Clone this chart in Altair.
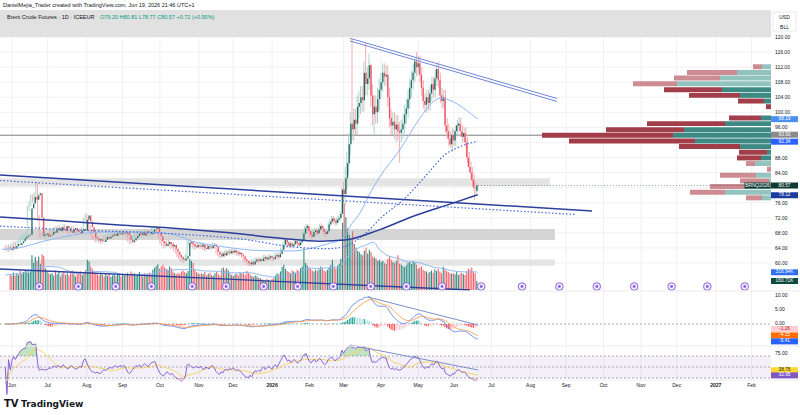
import altair as alt
import numpy as np
import pandas as pd

FONT = "Liberation Sans"
INK = "#131722"

# ---------------- data ----------------
BASE_DAY = "2025-05-26"          # bar number 0 of the trading-day x scale
FIRST_DAY = "2025-05-27"

close_2025_05 = [64.0, 63.5, 64.3, 63.8]
close_2025_06 = [64.5, 65.0, 64.8, 65.3, 65.8, 66.5, 67.0, 67.3, 67.5, 74.5, 75.8, 77.5, 76.8, 78.0, 78.5,
                 72.0, 67.2, 67.5, 67.8, 67.0, 67.3]
close_2025_07 = [67.5, 68.3, 68.0, 68.8, 69.2, 68.5, 69.5, 69.0, 68.6, 69.8, 69.2, 68.4, 68.0, 68.9, 69.3,
                 68.7, 68.2, 67.9, 68.5, 69.0, 68.6, 71.5, 72.6]
close_2025_08 = [71.0, 69.5, 68.0, 66.8, 66.5, 66.0, 66.3, 65.8, 65.6, 66.2, 66.9, 66.5, 67.0, 67.3, 67.6,
                 67.2, 67.9, 68.1, 67.6, 67.9, 68.2]
close_2025_09 = [67.8, 68.2, 67.4, 66.2, 65.5, 66.0, 66.6, 67.2, 67.8, 67.5, 68.0, 67.3, 67.9, 68.4, 68.1,
                 67.6, 68.3, 68.8, 69.0, 69.3, 68.2, 67.1]
close_2025_10 = [65.8, 65.2, 64.5, 65.0, 65.6, 65.1, 64.4, 64.8, 63.8, 63.0, 62.2, 61.6, 61.0, 60.7, 61.2,
                 61.8, 65.3, 65.6, 65.0, 64.5, 64.2, 64.8, 64.6]
close_2025_11 = [64.3, 64.9, 64.0, 63.7, 64.5, 64.2, 63.9, 64.6, 64.9, 64.3, 63.0, 62.3, 61.8, 62.5, 62.0,
                 62.8, 63.0, 62.6, 63.2, 62.8]
close_2025_12 = [63.3, 62.9, 62.4, 62.7, 62.2, 61.8, 61.0, 60.5, 60.0, 59.7, 60.2, 59.6, 60.4, 60.9, 60.6,
                 61.0, 60.5, 61.2, 61.6, 60.9, 61.4, 61.8, 61.3]
close_2026_01 = [61.0, 61.7, 62.1, 61.5, 62.4, 63.5, 64.8, 66.2, 65.5, 64.6, 65.2, 64.5, 65.0, 65.8, 65.3,
                 64.7, 65.5, 66.0, 67.8, 69.2, 69.8, 68.5]
close_2026_02 = [67.5, 67.0, 68.2, 68.6, 67.8, 68.9, 69.8, 69.2, 68.3, 67.7, 68.4, 70.2, 71.0, 71.8, 71.2,
                 70.6, 71.5, 71.9, 73.0, 79.5]
close_2026_03 = [78.3, 82.5, 86.5, 91.5, 97.0, 95.5, 98.0, 97.0, 101.5, 102.5, 104.0, 103.2, 110.5, 107.5,
                 109.0, 112.5, 104.5, 99.5, 101.5, 100.0, 103.5, 106.0]
close_2026_04 = [108.0, 110.5, 109.5, 110.0, 104.0, 98.5, 96.5, 97.5, 95.5, 96.8, 95.0, 94.6, 95.5, 97.0,
                 99.5, 101.0, 103.5, 106.5, 108.5, 110.5, 113.5, 112.0]
close_2026_05 = [113.0, 110.0, 106.5, 103.0, 102.0, 104.0, 102.5, 105.0, 107.5, 106.0, 109.0, 111.5, 108.5,
                 104.5, 103.0, 104.0, 96.5, 95.0, 93.0, 91.5, 94.0]
close_2026_06 = [92.5, 95.0, 96.5, 97.0, 95.0, 93.5, 94.5, 92.0, 88.0, 85.5, 84.0, 82.0, 80.0, 79.85, 80.57]

vol_2025_05 = [280, 250, 310, 260]
vol_2025_06 = [300, 270, 340, 290, 320, 350, 330, 310, 330, 620, 480, 590, 520, 600, 470, 640, 610, 390,
               330, 300, 280]
vol_2025_07 = [300, 260, 350, 280, 320, 240, 290, 330, 270, 310, 260, 300, 350, 280, 240, 310, 290, 330,
               270, 300, 360, 540, 510]
vol_2025_08 = [420, 380, 330, 300, 280, 260, 310, 270, 240, 290, 250, 300, 230, 260, 280, 250, 300, 270,
               240, 290, 260]
vol_2025_09 = [280, 310, 260, 330, 290, 300, 250, 280, 320, 270, 240, 300, 260, 290, 310, 280, 360, 400,
               430, 460, 380, 420]
vol_2025_10 = [450, 400, 380, 360, 420, 390, 330, 300, 280, 310, 290, 330, 350, 320, 300, 340, 560, 520,
               480, 360, 320, 300, 280]
vol_2025_11 = [300, 280, 320, 260, 290, 310, 270, 250, 300, 330, 280, 260, 380, 400, 360, 390, 350, 300,
               270, 250]
vol_2025_12 = [280, 300, 260, 320, 290, 310, 270, 340, 300, 280, 250, 230, 260, 240, 220, 210, 190, 170,
               160, 200, 180, 150, 190]
vol_2026_01 = [210, 260, 300, 280, 330, 410, 450, 380, 340, 320, 300, 350, 330, 310, 360, 340, 390, 420,
               750, 480, 440, 400]
vol_2026_02 = [380, 350, 330, 360, 340, 370, 420, 390, 350, 330, 360, 400, 450, 540, 420, 380, 430, 470,
               560, 1200]
vol_2026_03 = [1550, 1300, 1100, 980, 900, 1050, 820, 760, 700, 680, 640, 620, 700, 760, 650, 720, 680,
               600, 580, 560, 520, 540]
vol_2026_04 = [500, 520, 480, 460, 560, 600, 540, 500, 480, 520, 620, 470, 450, 430, 410, 440, 480, 500,
               460, 520, 480, 450]
vol_2026_05 = [380, 400, 420, 360, 340, 330, 300, 320, 350, 310, 370, 340, 380, 330, 300, 420, 380, 340,
               320, 300, 290]
vol_2026_06 = [300, 280, 330, 270, 290, 310, 280, 270, 340, 380, 360, 400, 330, 300, 160.71]

# typical wick length beyond the body, per month (May 2025 .. Jun 2026)
wick_by_month = [0.6, 0.7, 0.5, 0.5, 0.5, 0.6, 0.5, 0.5, 0.6, 0.7, 3.0, 2.5, 2.0, 1.5]
first_open = 64.2
last_open = 79.20
high_override = {19: 81.0, 20: 81.3, 48: 73.2, 108: 66.2, 200: 81.5, 205: 119.5, 213: 118.5, 216: 113.0,
                 242: 114.6, 255: 113.0, 268: 98.8, 279: 80.81}
low_override = {21: 66.6, 200: 76.0, 218: 94.0, 231: 92.0, 233: 86.6, 263: 90.5, 277: 76.7, 279: 78.77}

# moving averages (bar number, value)
sma50_bar = [-1, 12, 22, 35, 57, 80, 98, 111, 131, 151, 170, 180, 190, 199, 205, 210, 215, 221, 233, 245,
             252, 257, 262, 267, 273, 279]
sma50_val = [63.6, 64.3, 65.6, 66.9, 68.2, 68.2, 67.8, 65.8, 64.2, 63.3, 63.2, 63.8, 65.0, 66.5, 70.5, 73.5,
             78.0, 82.6, 90.0, 98.5, 102.5, 103.8, 103.3, 102.2, 100.3, 98.19]
sma100_bar = [-2, 40, 98, 141, 170, 190, 200, 212, 223, 235, 251, 259, 268, 279]
sma100_val = [69.8, 68.8, 67.8, 66.3, 64.3, 63.8, 64.3, 67.5, 72.4, 76.7, 84.5, 88.5, 90.8, 92.34]
sma200_bar = [-2, 33, 68, 98, 133, 163, 186, 201, 221, 243, 263, 279]
sma200_val = [72.2, 71.2, 70.1, 69.3, 68.0, 66.6, 65.8, 66.1, 68.8, 72.75, 75.7, 78.12]

# drawn trend lines (bar number, value)
trend_solid = ([-2.06, 346.2], [83.37, 73.81])
trend_dotted = ([-2.06, 336.2], [81.9, 72.88])
channel_a = ([203.8, 325.6], [119.65, 103.67])
channel_b = ([203.8, 325.6], [118.94, 102.88])
macd_trend = ([214.4, 279.3], [9.8, -0.4])
rsi_trend = ([204.0, 279.3], [90.0, 44.5])
vol_trend = ([-2.06, 274.4], [375, 0])

# zones: from bar, to bar, low, high, colour
zone_from = [-2.06, -2.06, -2.06, -2.06]
zone_to = [451.5, 321.5, 324.4, 324.4]
zone_lo = [120.0, 80.4, 66.1, 59.3]
zone_hi = [127.2, 82.5, 69.0, 60.9]
zone_col = ["#e1e1e1", "#e4e4e4", "#d5d5d5", "#e4e4e4"]
level_line = 93.93

# volume profile rows (row price, up volume, down volume, inside value area)
vp_price = [112.1, 110.6, 109.1, 107.6, 106.0, 104.5, 103.0, 101.5, 100.0, 98.5, 97.0, 95.4, 93.9, 92.4,
            90.9, 89.4, 87.9, 86.4, 84.9, 83.3, 81.8, 80.3, 78.8, 77.3]
vp_up = [9, 34, 51, 94, 49, 31, 7, 0, 0, 10, 46, 87, 98, 76, 31, 4, 10, 16, 0, 15, 2, 24, 46, 9]
vp_down = [9, 50, 46, 44, 58, 51, 26, 5, 0, 32, 78, 78, 131, 126, 61, 28, 24, 9, 4, 36, 29, 37, 35, 16]
vp_in_va = [0, 0, 0, 0, 1, 1, 1, 1, 1, 1, 1, 1, 1, 1, 1, 1, 1, 0, 0, 0, 0, 0, 0, 0]

# recurring event icons (bar numbers)
event_bar = [21, 44, 66, 87, 111, 131, 153, 173, 194, 216, 237, 258, 281, 305, 327, 349, 371, 393, 414, 436]

month_start = ["2025-06-01", "2025-07-01", "2025-08-01", "2025-09-01", "2025-10-01", "2025-11-01",
               "2025-12-01", "2026-01-01", "2026-02-01", "2026-03-01", "2026-04-01", "2026-05-01",
               "2026-06-01", "2026-07-01", "2026-08-01", "2026-09-01", "2026-10-01", "2026-11-01",
               "2026-12-01", "2027-01-01", "2027-02-01"]
month_label = ["Jun", "Jul", "Aug", "Sep", "Oct", "Nov", "Dec", "2026", "Feb", "Mar", "Apr", "May", "Jun",
               "Jul", "Aug", "Sep", "Oct", "Nov", "Dec", "2027", "Feb"]

grid_ticks = [120, 116, 112, 108, 104, 100, 96, 92, 88, 84, 80, 76, 72, 68, 64, 60]
# visible price labels (92 and 80 sit under the value badges in the picture)
price_ticks = [120, 116, 112, 108, 104, 100, 96, 88, 84, 76, 72, 68, 64, 60]
macd_ticks = [10, 5, 0]
rsi_ticks = [75]

# ---------------- derived tables ----------------
closes = sum([close_2025_05, close_2025_06, close_2025_07, close_2025_08, close_2025_09, close_2025_10,
              close_2025_11, close_2025_12, close_2026_01, close_2026_02, close_2026_03, close_2026_04,
              close_2026_05, close_2026_06], [])
vols = sum([vol_2025_05, vol_2025_06, vol_2025_07, vol_2025_08, vol_2025_09, vol_2025_10, vol_2025_11,
            vol_2025_12, vol_2026_01, vol_2026_02, vol_2026_03, vol_2026_04, vol_2026_05, vol_2026_06], [])
n = min(len(closes), len(vols))
closes, vols = closes[:n], vols[:n]
dates = pd.bdate_range(FIRST_DAY, periods=n)
base = np.datetime64(BASE_DAY)
bars = np.busday_count(base, dates.values.astype("datetime64[D]"))
opens = [first_open] + closes[:-1]
opens[-1] = last_open
mon = (dates.year - 2025) * 12 + dates.month - 5
highs, lows = [], []
for k in range(n):
    w = wick_by_month[min(int(mon[k]), len(wick_by_month) - 1)]
    b = int(bars[k])
    highs.append(high_override.get(b, max(opens[k], closes[k]) + w))
    lows.append(low_override.get(b, min(opens[k], closes[k]) - w))

up = [closes[k] >= opens[k] for k in range(n)]
cd = pd.DataFrame({
    "i": bars, "o": opens, "c": closes, "h": highs, "l": lows, "v": vols, "z": 0,
    "bc": ["#1f6b62" if u else "#f0505d" for u in up],
    "wc": ["#9fd0c6" if u else "#f6a4ab" for u in up],
    "vc": ["#2f8c83" if u else "#f4616d" for u in up],
})
cd["vma"] = pd.Series(vols).rolling(20, min_periods=1).mean().values

cs = pd.Series(closes)
macd = cs.ewm(span=12, adjust=False).mean() - cs.ewm(span=26, adjust=False).mean()
sig = macd.ewm(span=9, adjust=False).mean()
hist = macd - sig
prev = hist.shift(1).fillna(0)
hcol = []
for hv, pv in zip(hist, prev):
    if hv >= 0:
        hcol.append("#26a69a" if hv >= pv else "#b2dfdb")
    else:
        hcol.append("#ff5252" if hv < pv else "#ffcdd2")
cd["macd"] = macd.values
cd["sig"] = sig.values
cd["hist"] = hist.values
cd["hc"] = hcol

delta = cs.diff().fillna(0)
gain = delta.clip(lower=0).ewm(alpha=1 / 14, adjust=False).mean()
loss = (-delta.clip(upper=0)).ewm(alpha=1 / 14, adjust=False).mean()
rsi = 100 - 100 / (1 + gain / loss.replace(0, np.nan))
rsi = rsi.fillna(50)
cd["rsi"] = rsi.values
cd["rsima"] = rsi.rolling(14, min_periods=1).mean().values
cd["rsi_hi"] = np.maximum(rsi.values, 70)
cd["rsi_lo"] = np.minimum(rsi.values, 30)
cd["c70"] = 70
cd["c30"] = 30

month_bar = np.busday_count(base, np.array(month_start, dtype="datetime64[D]"))

# ---------------- scales ----------------
def S(domain, rng):
    return alt.Scale(domain=domain, range=rng, nice=False, zero=False)

XS = S([-2.06, 468.53], [0, 800])
YP = S([60, 120], [263, 37])
YV = S([0, 1000], [290, 234])
YM = S([0, 10], [324, 296.5])
YR = S([30, 70], [378, 356])
XVP = S([0, 230], [771, 541])
RIGHT = 771

def X(f):
    return alt.X(f, type="quantitative", scale=XS, axis=None)

def Y(f, sc):
    return alt.Y(f, type="quantitative", scale=sc, axis=None)

layers = []

# grid
grid_v = pd.DataFrame({"i": month_bar})
layers.append(alt.Chart(grid_v).mark_rule(color="#f1f1f1", strokeWidth=1).encode(
    x=X("i"), y=alt.value(10), y2=alt.value(380)))
grid_h = pd.DataFrame({"p": grid_ticks})
layers.append(alt.Chart(grid_h).mark_rule(color="#f1f1f1", strokeWidth=1).encode(
    y=Y("p", YP), x=alt.value(0), x2=alt.value(RIGHT)))

# zones
zones = pd.DataFrame({"a": zone_from, "b": zone_to, "lo": zone_lo, "hi": zone_hi, "col": zone_col})
layers.append(alt.Chart(zones).mark_rect().encode(
    x=X("a"), x2="b:Q", y=Y("lo", YP), y2="hi:Q", color=alt.Color("col:N", scale=None)))
layers.append(alt.Chart(pd.DataFrame({"p": [level_line]})).mark_rule(color="#7d7d7d", strokeWidth=1).encode(
    y=Y("p", YP), x=alt.value(0), x2=alt.value(RIGHT)))

# volume profile
vp = pd.DataFrame({"p": vp_price, "u": vp_up, "d": vp_down, "va": vp_in_va})
vp["top"] = vp["p"] + 0.66
vp["bot"] = vp["p"] - 0.66
vp["z"] = 0
vp["ud"] = vp["u"] + vp["d"]
vp["cu"] = np.where(vp["va"] == 1, "#3d8a85", "#93c3bf")
vp["cdn"] = np.where(vp["va"] == 1, "#a13e49", "#cd8c92")
layers.append(alt.Chart(vp).mark_rect().encode(
    x=alt.X("z:Q", scale=XVP, axis=None), x2="u:Q", y=Y("bot", YP), y2="top:Q",
    color=alt.Color("cu:N", scale=None)))
layers.append(alt.Chart(vp).mark_rect().encode(
    x=alt.X("u:Q", scale=XVP, axis=None), x2="ud:Q", y=Y("bot", YP), y2="top:Q",
    color=alt.Color("cdn:N", scale=None)))

# volume
layers.append(alt.Chart(cd).mark_bar(width=1.1).encode(
    x=X("i"), y=Y("v", YV), y2="z:Q", color=alt.Color("vc:N", scale=None)))
layers.append(alt.Chart(cd).mark_line(color="#8fb8f2", strokeWidth=1).encode(x=X("i"), y=Y("vma", YV)))
vt = pd.DataFrame({"i": vol_trend[0], "v": vol_trend[1]})
layers.append(alt.Chart(vt).mark_line(color="#2b3f9c", strokeWidth=1.3).encode(x=X("i"), y=Y("v", YV)))
layers.append(alt.Chart(pd.DataFrame({"i": event_bar})).mark_point(
    shape="circle", size=58, filled=True, fill="#f1ebfd", stroke="#8b62e0", strokeWidth=1, opacity=1).encode(
    x=X("i"), y=alt.value(286.5)))
layers.append(alt.Chart(pd.DataFrame({"i": event_bar})).mark_point(
    shape="circle", size=8, filled=True, color="#8b62e0", opacity=1).encode(
    x=X("i"), y=alt.value(286.5)))

# candles
layers.append(alt.Chart(cd).mark_rule(strokeWidth=0.9).encode(
    x=X("i"), y=Y("l", YP), y2="h:Q", color=alt.Color("wc:N", scale=None)))
layers.append(alt.Chart(cd).mark_bar(width=1.3).encode(
    x=X("i"), y=Y("o", YP), y2="c:Q", color=alt.Color("bc:N", scale=None)))

# moving averages
def line(xs, ys, sc, **kw):
    d = pd.DataFrame({"i": xs, "v": ys})
    return alt.Chart(d).mark_line(**kw).encode(x=X("i"), y=Y("v", sc))

layers.append(line(sma50_bar, sma50_val, YP, color="#8db8f6", strokeWidth=1, interpolate="monotone"))
layers.append(line(sma100_bar, sma100_val, YP, color="#3f68e0", strokeWidth=1.2, strokeDash=[1.5, 2],
                   interpolate="monotone"))
layers.append(line(sma200_bar, sma200_val, YP, color="#2b3f9c", strokeWidth=1.5, interpolate="monotone"))

# trend lines
layers.append(line(*trend_solid, YP, color="#2b3f9c", strokeWidth=1.5))
layers.append(line(*trend_dotted, YP, color="#4a69d3", strokeWidth=1.2, strokeDash=[1.5, 2]))
layers.append(line(*channel_a, YP, color="#6f86d8", strokeWidth=1))
layers.append(line(*channel_b, YP, color="#6f86d8", strokeWidth=1))

# last price line
lp = pd.DataFrame({"a": [float(bars[-1])], "b": [451.5], "p": [closes[-1]]})
layers.append(alt.Chart(lp).mark_rule(color="#0d3b34", strokeWidth=0.8, strokeDash=[1, 2], opacity=0.6).encode(
    x=X("a"), x2="b:Q", y=Y("p", YP)))

# MACD pane
layers.append(alt.Chart(pd.DataFrame({"p": [0]})).mark_rule(color="#9598a1", strokeWidth=0.8,
                                                            strokeDash=[2, 2]).encode(
    y=Y("p", YM), x=alt.value(0), x2=alt.value(RIGHT)))
layers.append(alt.Chart(cd).mark_bar(width=1.1).encode(
    x=X("i"), y=Y("hist", YM), y2="z:Q", color=alt.Color("hc:N", scale=None)))
layers.append(alt.Chart(cd).mark_line(color="#5b82f7", strokeWidth=1, opacity=0.85).encode(
    x=X("i"), y=Y("macd", YM)))
layers.append(alt.Chart(cd).mark_line(color="#f7994a", strokeWidth=1, opacity=0.85).encode(
    x=X("i"), y=Y("sig", YM)))
layers.append(line(*macd_trend, YM, color="#7f8fc9", strokeWidth=1))

# RSI pane
band = pd.DataFrame({"a": [70], "b": [30]})
layers.append(alt.Chart(band).mark_rect(color="#7e57c2", opacity=0.09).encode(
    y=Y("a", YR), y2="b:Q", x=alt.value(0), x2=alt.value(RIGHT)))
layers.append(alt.Chart(pd.DataFrame({"p": [70, 50, 30]})).mark_rule(color="#9598a1", strokeWidth=0.8,
                                                                      strokeDash=[2, 2]).encode(
    y=Y("p", YR), x=alt.value(0), x2=alt.value(RIGHT)))
layers.append(alt.Chart(cd).mark_area(color="#4caf50", opacity=0.35).encode(
    x=X("i"), y=Y("rsi_hi", YR), y2="c70:Q"))
layers.append(alt.Chart(cd).mark_area(color="#f23645", opacity=0.3).encode(
    x=X("i"), y=Y("rsi_lo", YR), y2="c30:Q"))
layers.append(alt.Chart(cd).mark_line(color="#f7d560", strokeWidth=1).encode(x=X("i"), y=Y("rsima", YR)))
layers.append(alt.Chart(cd).mark_line(color="#8a63d2", strokeWidth=1).encode(x=X("i"), y=Y("rsi", YR)))
layers.append(line(*rsi_trend, YR, color="#7f8fc9", strokeWidth=1))

# pane separators
for yy in [291, 346, 380]:
    layers.append(alt.Chart(pd.DataFrame({"k": [0]})).mark_rule(color="#ececec", strokeWidth=1).encode(
        y=alt.value(yy), x=alt.value(0), x2=alt.value(800)))

# axis labels
def tick_labels(vals, sc, fmt, yoff=0):
    d = pd.DataFrame({"p": vals, "t": [fmt.format(v) for v in vals]})
    return alt.Chart(d).mark_text(align="left", baseline="middle", fontSize=5, font=FONT, color=INK,
                                  yOffset=yoff).encode(
        x=alt.value(775), y=Y("p", sc), text="t:N")

layers.append(tick_labels(price_ticks, YP, "{:.2f}"))
layers.append(tick_labels(macd_ticks, YM, "{:.2f}", yoff=-1.5))
layers.append(tick_labels(rsi_ticks, YR, "{:.2f}"))

ml = pd.DataFrame({"i": month_bar, "t": month_label,
                   "w": ["bold" if t.isdigit() else "normal" for t in month_label]})
layers.append(alt.Chart(ml[ml.w == "normal"]).mark_text(fontSize=5, font=FONT, color=INK, baseline="middle").encode(
    x=X("i"), y=alt.value(384.5), text="t:N"))
layers.append(alt.Chart(ml[ml.w == "bold"]).mark_text(fontSize=5, font=FONT, color=INK, baseline="middle",
                                                       fontWeight="bold").encode(
    x=X("i"), y=alt.value(384.5), text="t:N"))

# badges
def badge(value, label, sc, bg, fg, yoff=0, xc=784.5, w=27):
    d = pd.DataFrame({"v": [value], "t": [label]})
    b = alt.Chart(d)
    return [
        b.mark_tick(orient="horizontal", size=w, thickness=6, color=bg, opacity=1, yOffset=yoff).encode(
            x=alt.value(xc), y=Y("v", sc)),
        b.mark_text(fontSize=4.8, font=FONT, color=fg, align="center", baseline="middle", yOffset=yoff).encode(
            x=alt.value(xc), y=Y("v", sc), text="t:N"),
    ]

badge_specs = [
    (98.19, "98.19", YP, "#4d8ff2", "white", 0),
    (93.93, "93.93", YP, "#8a8a8a", "white", -0.5),
    (92.34, "92.34", YP, "#2962ff", "white", 0.5),
    (80.57, "80.57", YP, "#0d3b34", "white", 0),
    (78.12, "78.12", YP, "#1b3c9c", "white", 0.5),
    (316.94, "316.94K", YV, "#2f6ff0", "white", 0),
    (160.71, "160.71K", YV, "#0d4a42", "white", 0),
    (-1.26, "-1.26", YM, "#ffcdd2", "#b71c1c", 1.5),
    (-4.15, "-4.15", YM, "#ff6d00", "white", 0),
    (-5.41, "-5.41", YM, "#2962ff", "white", 2.5),
    (38.76, "38.76", YR, "#fdd835", INK, -3),
    (32.95, "32.95", YR, "#7e57c2", "white", -1),
]
for spec in badge_specs:
    layers += badge(*spec)
layers += badge(80.57, "BRNQ2026", YP, "#0d3b34", "white", 0, xc=757.5, w=26)

# header / box / logo
def txt(s, x, y, size=5.5, color=INK, weight="normal", align="left", font=FONT):
    return alt.Chart(pd.DataFrame({"t": [s]})).mark_text(
        align=align, baseline="middle", fontSize=size, color=color, font=font, fontWeight=weight).encode(
        x=alt.value(x), y=alt.value(y), text="t:N")

layers.append(txt("DanielMejia_Trader created with TradingView.com, Jun 19, 2026 21:46 UTC+1", 3, 4.5))
layers.append(txt("Brent Crude Futures · 1D · ICEEUR", 7, 17))
layers.append(txt("O79.20  H80.81  L78.77  C80.57  +0.72 (+0.90%)", 100, 17, color="#089981"))
layers.append(alt.Chart(pd.DataFrame({"k": [0]})).mark_rect(fill="white", stroke="#e0e3eb", strokeWidth=0.8).encode(
    x=alt.value(773), x2=alt.value(796), y=alt.value(12), y2=alt.value(31)))
layers.append(txt("USD", 784.5, 17, size=5, align="center"))
layers.append(txt("BLL", 784.5, 26.5, size=5, align="center"))
layers.append(txt("TV", 4, 403.5, size=10, weight="bold", font="DejaVu Sans"))
layers.append(txt("TradingView", 21, 403.5, size=9, weight="bold", font="DejaVu Sans"))

chart = alt.layer(*layers).resolve_scale(x="independent", y="independent").properties(
    width=800, height=415, autosize=alt.AutoSizeParams(type="none"), padding=0,
    background="white").configure_view(stroke=None)

chart.save("out.html", embed_options={"renderer": "svg", "actions": False})
